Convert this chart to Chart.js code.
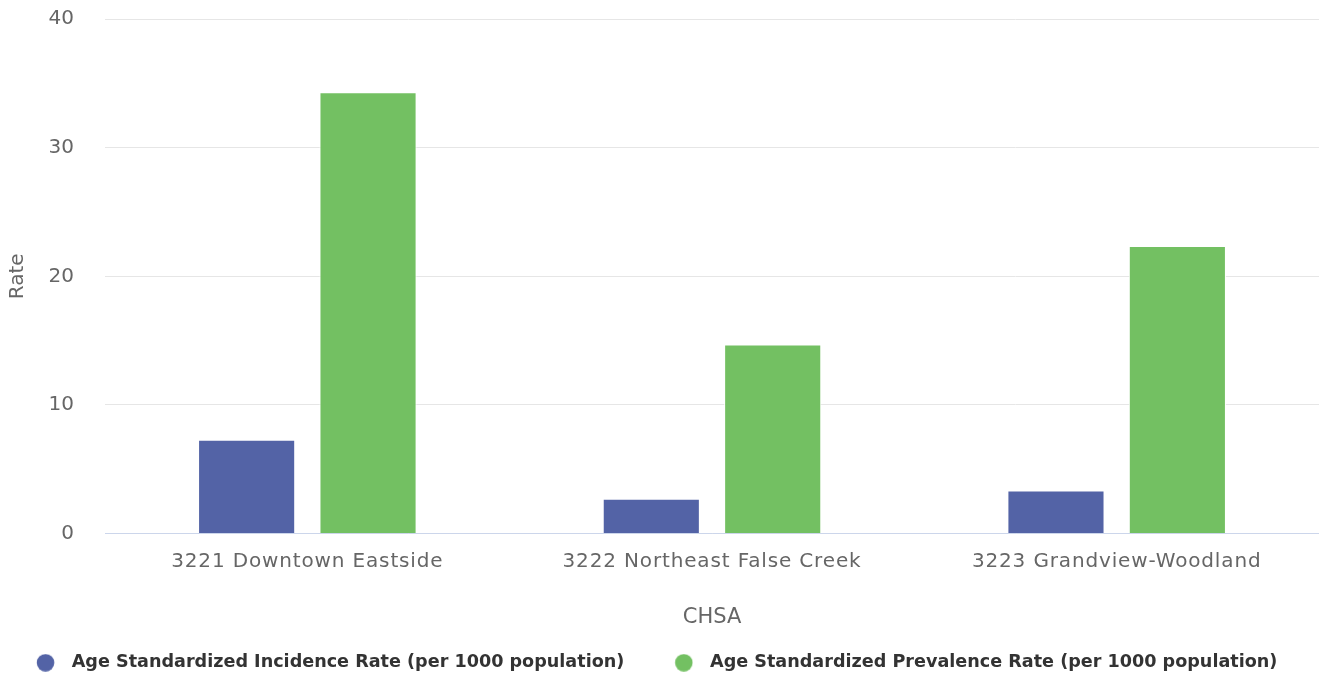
<!DOCTYPE html>
<html>
<head>
<meta charset="utf-8">
<script src="https://cdn.jsdelivr.net/npm/chart.js@4/dist/chart.umd.min.js"></script>
<style>
  html, body { margin: 0; padding: 0; background: #fff; }
  #wrap { width: 1319px; height: 677px; }
</style>
</head>
<body>
<div id="wrap"><canvas id="myChart"></canvas></div>
<script>
const categories = ['3221 Downtown Eastside', '3222 Northeast False Creek', '3223 Grandview-Woodland'];
const incidenceRate = [7.3, 2.7, 3.35];
const prevalenceRate = [34.3, 14.7, 22.35];
const seriesNames = ['Age Standardized Incidence Rate (per 1000 population)', 'Age Standardized Prevalence Rate (per 1000 population)'];
const seriesColors = ['#5363a6', '#73c062'];

const FONT = '"DejaVu Sans", sans-serif';

// legend marker: a circle sitting to the right of the image centre,
// so the gap to the text matches the original
function makeMarker(color) {
  const c = document.createElement('canvas');
  c.width = 60; c.height = 18;
  const g = c.getContext('2d');
  g.fillStyle = color;
  g.beginPath();
  g.arc(50.6, 9, 8.8, 0, Math.PI * 2);
  g.fill();
  return c;
}
const markers = seriesColors.map(makeMarker);

// x labels are letter-spaced in the original; they are drawn after the bars (z: 1)
const spacing = {
  id: 'spacing',
  beforeDraw(chart) { chart.ctx.letterSpacing = '0px'; },
  afterDatasetsDraw(chart) { chart.ctx.letterSpacing = '0.85px'; },
  afterDraw(chart) { chart.ctx.letterSpacing = '0px'; }
};

const ctx = document.getElementById('myChart').getContext('2d');
const myChart = new Chart(ctx, {
  type: 'bar',
  data: {
    labels: categories,
    datasets: [{
      label: seriesNames[0],
      data: incidenceRate,
      backgroundColor: seriesColors[0],
      borderColor: '#fff',
      borderWidth: 1
    }, {
      label: seriesNames[1],
      data: prevalenceRate,
      backgroundColor: seriesColors[1],
      borderColor: '#fff',
      borderWidth: 1
    }]
  },
  plugins: [spacing],
  options: {
    responsive: true,
    maintainAspectRatio: false,
    animation: false,
    datasets: { bar: { categoryPercentage: 0.6, barPercentage: 0.8 } },
    layout: { padding: { top: 19, right: 0, bottom: -4.5, left: -14 } },
    scales: {
      x: {
        grid: { display: false, drawTicks: false },
        border: { color: '#ccd6eb', width: 1 },
        ticks: { color: '#666', font: { family: FONT, size: 20 }, padding: 16, z: 1 },
        title: { display: true, text: 'CHSA', color: '#666', font: { family: FONT, size: 21 }, padding: { top: 15.7, bottom: 22.5 } }
      },
      y: {
        min: 0,
        max: 40,
        afterFit(scale) {
          scale.width = 119;
          scale.paddingTop = 0;
          scale.paddingBottom = 0;
        },
        grid: { color: '#e6e6e6', drawTicks: false },
        border: { display: false },
        ticks: { stepSize: 10, color: '#666', font: { family: FONT, size: 20 }, padding: 31 },
        title: { display: true, text: 'Rate', color: '#666', font: { family: FONT, size: 20 }, padding: { top: 19.5, bottom: 0 } }
      }
    },
    plugins: {
      legend: {
        position: 'bottom',
        align: 'start',
        labels: {
          usePointStyle: true,
          pointStyleWidth: 76,
          boxHeight: 18,
          padding: 0.9,
          color: '#333',
          font: { family: FONT, size: 17.6, weight: 'bold' },
          generateLabels(chart) {
            return Chart.defaults.plugins.legend.labels.generateLabels(chart).map((l, i) => ({ ...l, pointStyle: markers[i] }));
          }
        }
      }
    }
  }
});
</script>
</body>
</html>
